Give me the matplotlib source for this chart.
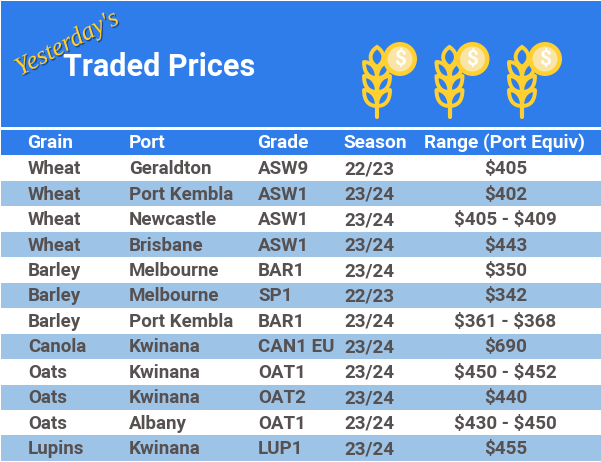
"""Yesterday's traded prices table graphic."""
import matplotlib
matplotlib.use("Agg")
import matplotlib.pyplot as plt
from matplotlib.patches import Rectangle, Circle, PathPatch
from matplotlib.path import Path
import matplotlib.patheffects as pe

BLUE = "#2F7DEB"
BAND = "#9DC3E6"
YELLOW = "#FFD02F"
PALE = "#FAE5A6"
GREY = "#565050"

HEADERS = ["Grain", "Port", "Grade", "Season", "Range (Port Equiv)"]
grains = ["Wheat", "Wheat", "Wheat", "Wheat", "Barley", "Barley", "Barley",
          "Canola", "Oats", "Oats", "Oats", "Lupins"]
ports = ["Geraldton", "Port Kembla", "Newcastle", "Brisbane", "Melbourne", "Melbourne",
         "Port Kembla", "Kwinana", "Kwinana", "Kwinana", "Albany", "Kwinana"]
grades = ["ASW9", "ASW1", "ASW1", "ASW1", "BAR1", "SP1", "BAR1", "CAN1 EU",
          "OAT1", "OAT2", "OAT1", "LUP1"]
seasons = ["22/23", "23/24", "23/24", "23/24", "23/24", "22/23", "23/24", "23/24",
           "23/24", "23/24", "23/24", "23/24"]
ranges = ["$405", "$402", "$405 - $409", "$443", "$350", "$342", "$361 - $368", "$690",
          "$450 - $452", "$440", "$430 - $450", "$455"]

COL_X = [28, 129, 258, 344]
RANGE_CX = 505
ROW_TOP = 155.5
ROW_H = 25.45

CURVED = [Path.MOVETO, Path.CURVE4, Path.CURVE4, Path.CURVE4,
          Path.CURVE4, Path.CURVE4, Path.CURVE4, Path.CLOSEPOLY]


def leaf(ax, x, y, side):
    # one grain husk, stem at x, outer top corner at x + side * 13
    verts = [(x, y + 16), (x + side * 9, y + 16), (x + side * 13, y + 10), (x + side * 13, y),
             (x + side * 5, y), (x, y + 7), (x, y + 16), (x, y + 16)]
    ax.add_patch(PathPatch(Path(verts, CURVED), fc=BLUE, ec=YELLOW, lw=2.8, joinstyle="round"))


def wheat_icon(ax, x):
    for y in (62, 76, 90):
        leaf(ax, x, y, -1)
        leaf(ax, x, y, 1)
    ax.plot([x, x], [72, 117], color=YELLOW, lw=3, solid_capstyle="round")
    # top husk
    verts = [(x, 47), (x - 9, 53), (x - 8, 62), (x, 67), (x + 8, 62), (x + 9, 53), (x, 47), (x, 47)]
    ax.add_patch(PathPatch(Path(verts, CURVED), fc=BLUE, ec=YELLOW, lw=2.8))
    ax.add_patch(Circle((x + 23, 59), 17, fc=YELLOW, ec="none", zorder=4))
    ax.add_patch(Circle((x + 23, 59), 12.5, fc=PALE, ec="none", zorder=5))
    ax.text(x + 23, 59.5, r"\$", color="white", fontsize=15, fontweight="bold",
            family="Roboto", ha="center", va="center", zorder=6)


def main():
    fig = plt.figure(figsize=(6.01, 4.62), dpi=100)
    ax = fig.add_axes([0, 0, 1, 1])
    ax.set_xlim(0, 601)
    ax.set_ylim(462, 0)
    ax.axis("off")

    ax.add_patch(Rectangle((1, 1), 600, 126, fc=BLUE, ec="none"))
    ax.add_patch(Rectangle((1, 130), 600, 25, fc=BLUE, ec="none"))

    ax.text(63, 67, "Traded Prices", color="white", fontsize=22, fontweight="bold",
            family="Roboto", va="center", ha="left")
    ax.text(20, 76, "Yesterday's", color=YELLOW, fontsize=18.5, style="italic", family="Liberation Serif",
            rotation=28, rotation_mode="anchor", va="baseline", ha="left",
            path_effects=[pe.withSimplePatchShadow(offset=(1, -1), shadow_rgbFace="#1B3A70", alpha=0.8)])

    for x in (377, 449.5, 522):
        wheat_icon(ax, x)

    for x, h in zip(COL_X, HEADERS[:4]):
        ax.text(x - 0.5, 142.5, h, color="white", fontsize=13.8, fontweight="bold",
                family="Roboto", va="center", ha="left")
    ax.text(RANGE_CX - 0.5, 142.5, HEADERS[4], color="white", fontsize=13.8, fontweight="bold",
            family="Roboto", va="center", ha="center")

    for i, row in enumerate(zip(grains, ports, grades, seasons)):
        y = ROW_TOP + i * ROW_H
        if i % 2 == 1:
            ax.add_patch(Rectangle((1, y), 600, ROW_H, fc=BAND, ec="none"))
        for x, val in zip(COL_X, row):
            ax.text(x, y + ROW_H / 2 + 1, val, color=GREY, fontsize=13.5, fontweight="bold",
                    family="Roboto", va="center", ha="left")
        ax.text(RANGE_CX + 0.5, y + ROW_H / 2 + 1, ranges[i].replace("$", r"\$"), color=GREY, fontsize=13.5,
                fontweight="bold", family="Roboto", va="center", ha="center")

    fig.savefig("out.png", dpi=100)
    plt.close(fig)


if __name__ == "__main__":
    main()
